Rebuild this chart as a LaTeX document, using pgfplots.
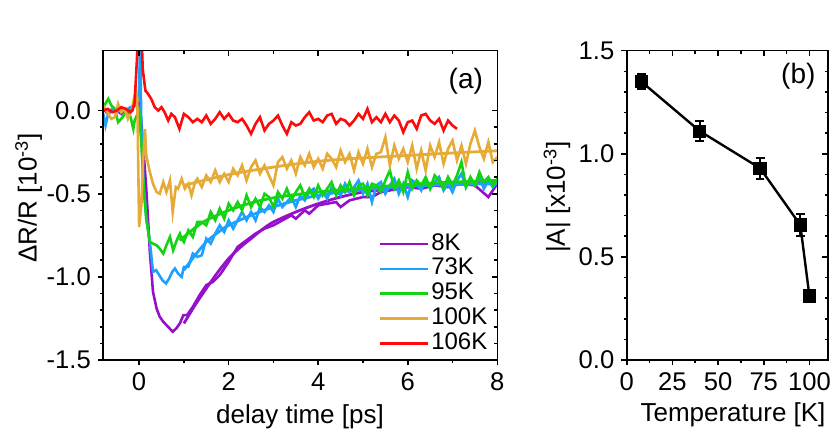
\documentclass[border=0pt]{standalone}
\usepackage{fontspec}
\setmainfont{Liberation Sans}
\usepackage{pgfplots}
\pgfplotsset{compat=1.18}
\definecolor{cpur}{RGB}{150,16,204}
\definecolor{cblu}{RGB}{30,160,255}
\definecolor{cgrn}{RGB}{20,210,20}
\definecolor{corg}{RGB}{230,170,55}
\definecolor{cred}{RGB}{255,10,10}
\pgfplotsset{
  myframe/.style={scale only axis, height=154.65pt,
    axis line style={line width=0.8pt},
    every tick/.style={black, line width=0.8pt},
    major tick length=2.7pt, minor tick length=1.5pt,
    tick label style={font=\fontsize{12.8}{15}\selectfont},
    /pgf/number format/assume math mode=true},
  dat/.style={line width=1.3pt},
  fit/.style={line width=1.4pt, smooth, tension=0.5, forget plot},
}
\begin{document}
\begin{tikzpicture}
\path[use as bounding box] (0,0) rectangle (415pt,216pt);
% ---------- panel (a)
\begin{axis}[myframe, width=197pt, at={(51.65pt,36pt)}, anchor=south west,
  xmin=-0.8, xmax=8, ymin=-1.5, ymax=0.36,
  xtick={0,2,4,6,8}, minor x tick num=1,
  ytick={-1.5,-1,-0.5,0}, minor y tick num=4,
  tick align=outside, tick pos=left,
  yticklabel style={/pgf/number format/.cd, fixed, fixed zerofill, precision=1},
  legend style={at={(axis cs:5.35,-0.729)}, anchor=north west, draw=none, fill=none,
    inner sep=0pt, outer sep=0pt, row sep=0pt,
    font=\fontsize{12}{13}\selectfont,
    nodes={inner sep=1pt, text height=8.2pt, text depth=2.2pt},
    /tikz/every even column/.append style={column sep=0.6pt}},
  legend cell align=left,
  legend image code/.code={\draw[#1, line width=1.3pt] (0pt,0pt) -- (24pt,0pt);},
]
% 8K
\addplot[dat, cpur] coordinates {
(-0.8,0.01)(-0.7,-0.02)(-0.6,0.01)(-0.5,0.0)(-0.4,-0.02)(-0.3,0.01)(-0.2,0.0)(-0.1,0.03)(0.0,0.05)(0.05,-0.07)(0.1,-0.25)(0.16,-0.47)(0.24,-0.85)(0.31,-1.09)(0.39,-1.19)(0.46,-1.24)(0.54,-1.27)(0.61,-1.29)(0.68,-1.31)(0.75,-1.33)(0.83,-1.31)(0.91,-1.28)(0.99,-1.23)(1.07,-1.23)(1.2,-1.18)(1.35,-1.11)(1.5,-1.05)(1.65,-1.03)(1.8,-0.99)(2.0,-0.91)(2.2,-0.82)(2.4,-0.78)(2.6,-0.74)(2.8,-0.71)(3.0,-0.69)(3.2,-0.66)(3.4,-0.63)(3.5,-0.65)(3.7,-0.60)(3.8,-0.62)(4.0,-0.57)(4.2,-0.56)(4.4,-0.55)(4.5,-0.58)(4.7,-0.54)(5.0,-0.52)(5.2,-0.52)(5.4,-0.49)(5.6,-0.48)(5.8,-0.47)(6.0,-0.46)(6.3,-0.47)(6.6,-0.45)(6.9,-0.46)(7.2,-0.44)(7.5,-0.45)(7.8,-0.52)(8.0,-0.44)};
\addlegendentry{8K}
\addplot[fit, cpur] coordinates {(1.0,-1.28)(1.25,-1.17)(1.5,-1.07)(1.75,-0.975)(2,-0.89)(2.25,-0.825)(2.5,-0.77)(2.75,-0.715)(3,-0.67)(3.5,-0.61)(4,-0.56)(4.5,-0.52)(5,-0.49)(5.5,-0.475)(6,-0.46)(6.5,-0.45)(7,-0.445)(7.5,-0.44)(8,-0.435)};
% 73K
\addplot[dat, cblu] coordinates {
(-0.8,-0.02)(-0.75,-0.09)(-0.7,-0.03)(-0.6,0.01)(-0.5,-0.01)(-0.4,0.01)(-0.3,0.0)(-0.2,0.02)(-0.1,0.03)(-0.05,0.09)(0.0,0.07)(0.02,0.45)(0.05,-0.1)(0.09,-0.41)(0.16,-0.65)(0.24,-0.79)(0.31,-0.97)(0.38,-0.96)(0.45,-0.99)(0.52,-1.02)(0.6,-1.04)(0.67,-1.01)(0.74,-0.97)(0.8,-0.95)(0.87,-0.98)(0.95,-1.0)
(1.0,-0.94)(1.1,-0.94)(1.2,-0.86)(1.3,-0.88)(1.4,-0.87)(1.5,-0.77)(1.6,-0.80)(1.7,-0.74)(1.8,-0.69)(1.9,-0.73)
(2.0,-0.66)(2.1,-0.71)(2.2,-0.66)(2.3,-0.61)(2.4,-0.66)(2.5,-0.61)(2.6,-0.66)(2.7,-0.58)(2.8,-0.61)(2.9,-0.57)
(3.0,-0.61)(3.1,-0.53)(3.2,-0.58)(3.3,-0.55)(3.4,-0.52)(3.5,-0.58)(3.6,-0.51)(3.7,-0.54)(3.8,-0.49)(3.9,-0.47)
(4.0,-0.53)(4.1,-0.49)(4.2,-0.53)(4.3,-0.46)(4.4,-0.48)(4.5,-0.51)(4.6,-0.44)(4.7,-0.49)(4.8,-0.46)(4.9,-0.42)
(5.0,-0.50)(5.1,-0.44)(5.2,-0.55)(5.3,-0.45)(5.4,-0.43)(5.5,-0.50)(5.6,-0.45)(5.7,-0.41)(5.8,-0.50)(5.9,-0.44)
(6.0,-0.52)(6.1,-0.42)(6.2,-0.44)(6.3,-0.48)(6.4,-0.41)(6.5,-0.47)(6.6,-0.43)(6.7,-0.40)(6.8,-0.48)(6.9,-0.44)
(7.0,-0.49)(7.1,-0.42)(7.2,-0.38)(7.3,-0.46)(7.4,-0.41)(7.5,-0.45)(7.6,-0.40)(7.7,-0.47)(7.8,-0.42)(7.9,-0.46)(8.0,-0.43)};
\addlegendentry{73K}
\addplot[fit, cblu] coordinates {(1.0,-0.96)(1.25,-0.87)(1.5,-0.79)(1.75,-0.735)(2,-0.69)(2.5,-0.63)(3,-0.58)(3.5,-0.54)(4,-0.51)(4.5,-0.49)(5,-0.475)(6,-0.455)(7,-0.445)(8,-0.44)};
% 95K
\addplot[dat, cgrn] coordinates {
(-0.8,0.02)(-0.69,0.07)(-0.62,0.03)(-0.54,0.01)(-0.47,-0.07)(-0.4,-0.05)(-0.32,-0.02)(-0.25,-0.01)(-0.19,-0.04)(-0.13,-0.11)(-0.1,-0.06)(-0.05,-0.03)(0.0,0.0)(0.05,-0.2)(0.1,-0.45)(0.16,-0.65)(0.24,-0.79)(0.31,-0.80)(0.39,-0.81)(0.46,-0.83)(0.54,-0.86)(0.61,-0.81)(0.69,-0.76)(0.76,-0.84)(0.84,-0.78)(0.91,-0.74)(0.95,-0.77)
(1.0,-0.79)(1.1,-0.72)(1.2,-0.76)(1.3,-0.67)(1.4,-0.67)(1.5,-0.69)(1.6,-0.61)(1.7,-0.66)(1.8,-0.59)(1.9,-0.65)
(2.0,-0.56)(2.1,-0.60)(2.2,-0.55)(2.3,-0.60)(2.4,-0.51)(2.5,-0.58)(2.6,-0.53)(2.7,-0.58)(2.8,-0.50)(2.9,-0.52)
(3.0,-0.58)(3.1,-0.49)(3.2,-0.53)(3.3,-0.47)(3.4,-0.54)(3.5,-0.49)(3.6,-0.45)(3.7,-0.52)(3.8,-0.47)(3.9,-0.52)
(4.0,-0.45)(4.1,-0.51)(4.2,-0.47)(4.3,-0.43)(4.4,-0.51)(4.5,-0.45)(4.6,-0.49)(4.7,-0.43)(4.8,-0.51)(4.9,-0.45)
(5.0,-0.44)(5.1,-0.51)(5.2,-0.44)(5.3,-0.45)(5.4,-0.49)(5.5,-0.42)(5.6,-0.36)(5.7,-0.47)(5.8,-0.42)(5.9,-0.49)
(6.0,-0.37)(6.1,-0.47)(6.2,-0.42)(6.3,-0.45)(6.4,-0.40)(6.5,-0.47)(6.6,-0.39)(6.7,-0.42)(6.8,-0.47)(6.9,-0.40)
(7.0,-0.45)(7.1,-0.39)(7.2,-0.31)(7.3,-0.46)(7.4,-0.40)(7.5,-0.45)(7.6,-0.37)(7.7,-0.43)(7.8,-0.40)(7.9,-0.45)(8.0,-0.41)};
\addlegendentry{95K}
\addplot[fit, cgrn] coordinates {(0.9,-0.78)(1.0,-0.76)(1.25,-0.705)(1.5,-0.66)(2,-0.60)(2.5,-0.555)(3,-0.525)(3.5,-0.505)(4,-0.49)(4.5,-0.477)(5,-0.465)(6,-0.445)(7,-0.43)(8,-0.42)};
% 100K
\addplot[dat, corg] coordinates {
(-0.8,0.03)(-0.69,-0.02)(-0.62,-0.05)(-0.54,-0.04)(-0.47,0.04)(-0.4,-0.01)(-0.32,0.01)(-0.25,-0.05)(-0.17,0.0)(-0.07,0.13)(-0.04,0.07)(0.0,-0.70)(0.05,-0.57)(0.09,-0.3)(0.13,-0.11)(0.16,-0.27)(0.24,-0.37)(0.31,-0.44)(0.39,-0.49)(0.46,-0.50)(0.54,-0.43)(0.61,-0.49)(0.69,-0.42)(0.75,-0.61)(0.82,-0.46)(0.87,-0.47)(0.95,-0.41)(1.02,-0.47)(1.10,-0.44)(1.17,-0.51)(1.25,-0.43)
(1.3,-0.41)(1.4,-0.46)(1.5,-0.39)(1.6,-0.43)(1.7,-0.36)(1.8,-0.43)(1.9,-0.38)
(2.0,-0.43)(2.1,-0.35)(2.2,-0.39)(2.3,-0.33)(2.4,-0.42)(2.5,-0.34)(2.6,-0.30)(2.7,-0.38)(2.8,-0.33)(2.9,-0.39)
(3.0,-0.45)(3.1,-0.31)(3.2,-0.28)(3.3,-0.35)(3.4,-0.30)(3.5,-0.38)(3.6,-0.28)(3.7,-0.33)(3.8,-0.26)(3.9,-0.34)
(4.0,-0.29)(4.1,-0.35)(4.2,-0.26)(4.3,-0.29)(4.4,-0.34)(4.5,-0.24)(4.6,-0.31)(4.7,-0.26)(4.8,-0.36)(4.9,-0.25)
(5.0,-0.32)(5.1,-0.23)(5.2,-0.34)(5.3,-0.26)(5.4,-0.25)(5.5,-0.16)(5.6,-0.33)(5.7,-0.21)(5.8,-0.29)(5.9,-0.23)
(6.0,-0.31)(6.1,-0.21)(6.2,-0.35)(6.3,-0.24)(6.4,-0.36)(6.5,-0.21)(6.6,-0.28)(6.7,-0.19)(6.8,-0.32)(6.9,-0.23)
(7.0,-0.18)(7.1,-0.30)(7.2,-0.21)(7.3,-0.32)(7.4,-0.20)(7.5,-0.12)(7.6,-0.22)(7.7,-0.29)(7.8,-0.19)(7.9,-0.31)(8.0,-0.28)};
\addlegendentry{100K}
\addplot[fit, corg] coordinates {(1.0,-0.45)(2,-0.385)(3,-0.34)(4,-0.305)(5,-0.285)(6,-0.27)(7,-0.255)(8,-0.242)};
% 106K
\addplot[dat, cred] coordinates {
(-0.8,0.0)(-0.7,0.01)(-0.6,-0.01)(-0.5,0.0)(-0.4,0.02)(-0.3,0.01)(-0.2,-0.01)(-0.15,0.0)(-0.1,0.05)(-0.05,0.3)(0.0,0.6)(0.05,0.5)(0.08,0.25)(0.14,0.12)(0.2,0.10)(0.27,0.07)(0.35,0.02)(0.43,0.0)(0.5,0.02)(0.57,-0.01)(0.65,-0.06)(0.72,-0.02)(0.8,-0.04)(0.9,-0.11)
(1.0,-0.02)(1.1,-0.04)(1.2,-0.07)(1.3,-0.05)(1.4,-0.07)(1.5,-0.03)(1.6,-0.08)(1.7,-0.05)(1.8,-0.01)(1.9,-0.05)
(2.0,-0.02)(2.1,-0.06)(2.2,-0.07)(2.3,-0.05)(2.4,-0.09)(2.5,-0.14)(2.6,-0.08)(2.7,-0.04)(2.8,-0.12)(2.9,-0.08)
(3.0,-0.06)(3.1,-0.03)(3.2,-0.09)(3.3,-0.14)(3.4,-0.07)(3.5,-0.09)(3.6,-0.08)(3.7,-0.04)(3.8,-0.01)(3.9,-0.06)
(4.0,-0.05)(4.1,-0.07)(4.2,-0.03)(4.3,-0.02)(4.4,-0.08)(4.5,-0.05)(4.6,-0.06)(4.7,-0.09)(4.8,-0.06)(4.9,-0.02)
(5.0,-0.05)(5.1,0.01)(5.2,-0.07)(5.3,-0.04)(5.4,-0.07)(5.5,-0.02)(5.6,-0.07)(5.7,-0.03)(5.8,-0.06)(5.9,-0.13)
(6.0,-0.07)(6.1,-0.06)(6.2,-0.11)(6.3,-0.03)(6.4,-0.02)(6.5,-0.06)(6.6,-0.08)(6.7,-0.05)(6.8,-0.12)(6.9,-0.06)(7.0,-0.09)(7.1,-0.11)};
\addlegendentry{106K}
\end{axis}
\begin{axis}[myframe, width=197pt, at={(51.65pt,36pt)}, anchor=south west,
  xmin=-0.8, xmax=8, ymin=-1.5, ymax=0.36,
  xtick={0,2,4,6,8}, minor x tick num=1,
  ytick={-1.5,-1,-0.5,0}, minor y tick num=4,
  tick align=inside, tick pos=right, xticklabels={}, yticklabels={}]
\end{axis}
% ---------- panel (b)
\begin{axis}[myframe, width=100.5pt, at={(313.35pt,36pt)}, anchor=south west,
  xmin=0, xmax=110, ymin=0, ymax=1.5,
  xtick={0,25,50,75,100}, minor x tick num=1,
  ytick={0,0.5,1,1.5}, minor y tick num=4,
  tick align=outside, tick pos=left,
  yticklabel style={/pgf/number format/.cd, fixed, fixed zerofill, precision=1}]
\addplot[black, line width=1.2pt, mark=square*, mark size=2.7pt, mark options={solid},
  error bars/.cd, y dir=both, y explicit,
  error bar style={line width=1pt},
  error mark options={rotate=90, mark size=2.2pt, line width=1pt}]
  coordinates {(8,1.35) +- (0,0.035) (40,1.11) +- (0,0.05) (73,0.93) +- (0,0.05) (95,0.655) +- (0,0.055) (100,0.31) +- (0,0.015)};
\end{axis}
\begin{axis}[myframe, width=100.5pt, at={(313.35pt,36pt)}, anchor=south west,
  xmin=0, xmax=110, ymin=0, ymax=1.5,
  xtick={0,25,50,75,100}, minor x tick num=1,
  ytick={0,0.5,1,1.5}, minor y tick num=4,
  tick align=inside, tick pos=right, xticklabels={}, yticklabels={}]
\end{axis}
% ---------- labels
\node[rotate=90, font=\fontsize{13}{15}\selectfont] at (14.25pt,117pt) {ΔR/R [10\textsuperscript{-3}]};
\node[rotate=90, font=\fontsize{13}{15}\selectfont] at (278.5pt,117.5pt) {|A| [x10\textsuperscript{-3}]};
\node[anchor=base, font=\fontsize{13}{15}\selectfont] at (150pt,4.3pt) {delay time [ps]};
\node[anchor=base, font=\fontsize{13}{15}\selectfont] at (366.5pt,5pt) {Temperature [K]};
\node[font=\fontsize{14}{16}\selectfont] at (232.9pt,175.15pt) {(a)};
\node[font=\fontsize{14}{16}\selectfont] at (399.15pt,177.65pt) {(b)};
\end{tikzpicture}
\end{document}
